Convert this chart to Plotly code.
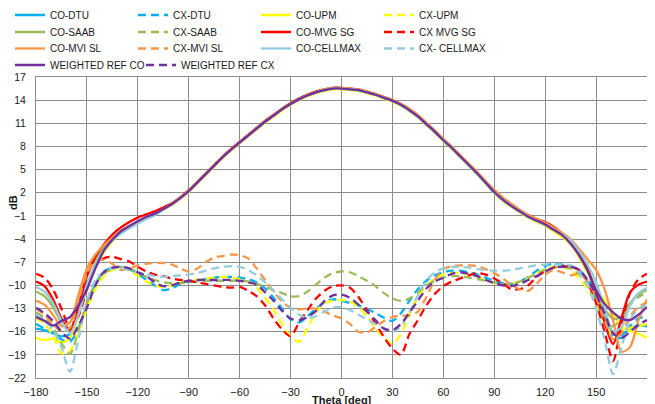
import plotly.graph_objects as go

# Theta grid (deg)
THETA = list(range(-180, 185, 5))

# ---- Co-polar series (dB) ----
CO_DTU = [-15.6, -15.8, -16.2, -16.6, -16.3, -13.8, -10.0, -7.4, -5.5,
          -4.1, -3.1, -2.4, -1.8, -1.2, -0.8, -0.2, 0.5, 1.3,
          2.2, 3.3, 4.4, 5.5, 6.6, 7.6, 8.5, 9.4, 10.3,
          11.2, 12.0, 12.8, 13.5, 14.1, 14.6, 15.0, 15.3, 15.5,
          15.5, 15.4, 15.2, 15.0, 14.7, 14.3, 13.9, 13.3, 12.6,
          11.8, 10.8, 9.8, 8.7, 7.7, 6.6, 5.5, 4.4, 3.2,
          2.0, 1.0, 0.2, -0.5, -1.2, -1.7, -2.2, -2.9, -3.6,
          -4.6, -6.1, -8.2, -11.2, -14.2, -16.2, -16.4, -15.6, -15.2, -15.3]
CO_UPM = [-16.8, -17.1, -16.9, -17.4, -16.8, -14.0, -10.3, -7.6, -5.7,
          -4.3, -3.2, -2.4, -1.8, -1.2, -0.8, -0.2, 0.4, 1.2,
          2.1, 3.2, 4.3, 5.4, 6.5, 7.5, 8.4, 9.3, 10.2,
          11.1, 11.9, 12.7, 13.4, 14.0, 14.5, 14.9, 15.2, 15.4,
          15.4, 15.3, 15.2, 14.9, 14.6, 14.2, 13.8, 13.3, 12.6,
          11.8, 10.8, 9.8, 8.7, 7.7, 6.6, 5.5, 4.4, 3.2,
          2.0, 1.0, 0.2, -0.5, -1.2, -1.8, -2.3, -3.0, -3.7,
          -4.7, -6.3, -8.4, -10.4, -12.0, -13.6, -15.4, -15.9, -16.3, -16.8]
CO_SAAB = [-10.8, -11.4, -12.8, -14.8, -15.8, -12.3, -8.7, -6.7, -5.1,
           -4.0, -3.0, -2.3, -1.7, -1.1, -0.7, -0.1, 0.6, 1.4,
           2.3, 3.4, 4.5, 5.6, 6.7, 7.7, 8.6, 9.5, 10.4,
           11.3, 12.1, 12.9, 13.6, 14.2, 14.7, 15.1, 15.4, 15.6,
           15.6, 15.5, 15.3, 15.0, 14.7, 14.3, 13.9, 13.4, 12.7,
           11.9, 10.9, 9.9, 8.8, 7.8, 6.7, 5.6, 4.5, 3.3,
           2.1, 1.1, 0.3, -0.4, -1.1, -1.6, -2.1, -2.8, -3.4,
           -4.4, -5.9, -7.9, -10.6, -13.0, -14.3, -14.1, -12.3, -11.2, -10.6]
CO_MVG = [-9.5, -10.1, -11.8, -14.3, -15.8, -12.8, -8.8, -6.3, -4.7,
          -3.4, -2.5, -1.8, -1.2, -0.8, -0.4, 0.1, 0.6, 1.4,
          2.3, 3.4, 4.5, 5.6, 6.7, 7.7, 8.6, 9.5, 10.4,
          11.3, 12.1, 12.9, 13.6, 14.2, 14.7, 15.1, 15.4, 15.6,
          15.6, 15.5, 15.4, 15.1, 14.8, 14.4, 14.0, 13.5, 12.8,
          12.0, 11.0, 10.0, 8.9, 7.9, 6.8, 5.7, 4.6, 3.4,
          2.2, 1.2, 0.4, -0.3, -0.9, -1.4, -1.8, -2.4, -3.3,
          -4.4, -6.0, -7.9, -11.0, -14.8, -17.6, -14.2, -10.9, -9.9, -9.5]
CO_MVI = [-12.0, -12.5, -13.8, -15.3, -14.8, -11.2, -7.8, -6.0, -4.8,
          -3.8, -2.9, -2.3, -1.7, -1.1, -0.7, -0.1, 0.5, 1.3,
          2.2, 3.3, 4.4, 5.5, 6.6, 7.6, 8.5, 9.4, 10.3,
          11.2, 12.0, 12.8, 13.5, 14.1, 14.6, 15.0, 15.4, 15.6,
          15.6, 15.5, 15.4, 15.1, 14.8, 14.4, 14.0, 13.5, 12.9,
          12.1, 11.1, 10.1, 9.0, 8.0, 6.9, 5.8, 4.7, 3.5,
          2.4, 1.4, 0.6, -0.2, -0.9, -1.4, -1.9, -2.5, -3.2,
          -4.0, -5.3, -6.6, -8.0, -10.5, -14.5, -18.6, -18.0, -14.5, -11.8]
CO_CELLMAX = [-10.2, -10.8, -12.3, -14.6, -16.2, -13.8, -10.0, -7.3, -5.5,
              -4.2, -3.3, -2.6, -2.0, -1.4, -0.9, -0.2, 0.5, 1.3,
              2.2, 3.3, 4.4, 5.5, 6.6, 7.6, 8.5, 9.4, 10.3,
              11.2, 12.0, 12.8, 13.5, 14.1, 14.6, 15.0, 15.3, 15.5,
              15.5, 15.4, 15.3, 15.0, 14.7, 14.3, 13.9, 13.4, 12.7,
              11.9, 10.9, 9.9, 8.8, 7.8, 6.7, 5.6, 4.5, 3.3,
              2.1, 1.1, 0.3, -0.4, -1.1, -1.7, -2.2, -2.8, -3.4,
              -4.2, -5.6, -7.3, -9.6, -13.0, -16.0, -15.4, -12.6, -11.0, -10.3]
WEIGHTED_CO = [-14.1, -14.6, -15.2, -14.6, -14.1, -12.6, -10.5, -7.8, -5.5,
               -4.1, -3.0, -2.3, -1.7, -1.1, -0.7, -0.1, 0.5, 1.3,
               2.2, 3.3, 4.4, 5.5, 6.6, 7.6, 8.5, 9.4, 10.3,
               11.2, 12.0, 12.8, 13.5, 14.1, 14.6, 15.0, 15.3, 15.5,
               15.5, 15.4, 15.3, 15.0, 14.7, 14.3, 13.9, 13.4, 12.7,
               11.9, 10.9, 9.9, 8.8, 7.8, 6.7, 5.6, 4.5, 3.3,
               2.1, 1.1, 0.3, -0.4, -1.1, -1.6, -2.1, -2.8, -3.5,
               -4.6, -6.1, -8.1, -10.6, -12.4, -13.5, -14.3, -14.5, -13.8, -12.8]

# ---- Cross-polar series (dB) ----
CX_DTU = [-15.0, -15.6, -16.2, -17.0, -17.3, -15.5, -12.5, -9.8, -8.2,
          -7.7, -7.6, -7.9, -8.5, -9.3, -10.0, -10.6, -10.4, -9.8,
          -9.5, -9.4, -9.2, -9.0, -8.9, -8.9, -9.0, -9.2, -9.6,
          -10.4, -11.6, -13.0, -14.4, -14.8, -14.0, -13.0, -12.2, -11.8,
          -12.0, -12.3, -12.6, -13.0, -13.6, -14.2, -14.6, -13.6, -12.0,
          -10.5, -9.4, -8.7, -8.3, -8.1, -8.1, -8.3, -8.6, -9.0,
          -9.4, -9.7, -9.8, -9.5, -8.9, -8.1, -7.5, -7.2, -7.3,
          -7.5, -8.0, -9.3, -11.3, -14.0, -16.5, -16.8, -15.3, -14.3, -14.0]
CX_UPM = [-14.2, -15.0, -16.5, -18.8, -18.5, -16.0, -13.0, -10.5, -8.8,
          -8.0, -7.8, -8.1, -8.8, -9.5, -10.0, -10.2, -10.0, -9.6,
          -9.4, -9.3, -9.1, -9.0, -8.9, -9.0, -9.2, -9.5, -10.3,
          -11.6, -13.2, -15.0, -16.6, -17.3, -15.5, -13.5, -12.3, -12.0,
          -11.9, -12.1, -12.8, -14.0, -15.5, -16.8, -17.6, -16.3, -13.8,
          -11.5, -10.0, -9.1, -8.6, -8.4, -8.4, -8.6, -8.9, -9.3,
          -9.7, -9.9, -9.8, -9.5, -9.0, -8.4, -7.9, -7.6, -7.6,
          -8.0, -9.0, -10.5, -12.5, -14.8, -16.5, -15.8, -15.5, -15.3, -15.0]
CX_SAAB = [-13.5, -14.2, -15.5, -17.5, -18.9, -15.8, -12.2, -9.8, -8.5,
           -7.8, -7.6, -7.8, -8.3, -8.9, -9.3, -9.6, -9.7, -9.7,
           -9.6, -9.5, -9.4, -9.4, -9.4, -9.4, -9.4, -9.5, -9.8,
           -10.2, -10.6, -11.0, -11.4, -11.4, -10.8, -9.9, -9.0, -8.4,
           -8.2, -8.3, -8.8, -9.4, -10.1, -11.0, -11.7, -12.0, -11.7,
           -10.9, -10.0, -9.4, -9.0, -8.8, -8.8, -9.0, -9.2, -9.4,
           -9.6, -9.8, -9.8, -9.5, -9.0, -8.5, -8.0, -7.7, -7.6,
           -7.8, -8.5, -10.0, -12.0, -14.3, -15.3, -14.3, -12.5, -11.5, -11.0]
CX_MVG = [-8.5, -9.0, -10.5, -13.0, -15.5, -14.0, -10.5, -7.5, -6.5,
          -6.3, -6.6, -6.9, -7.6, -8.2, -8.6, -8.8, -9.1, -9.3,
          -9.4, -9.6, -9.8, -10.0, -10.2, -10.3, -10.2, -10.7, -11.4,
          -12.6, -14.3, -15.7, -16.6, -14.8, -13.2, -11.7, -10.7, -10.1,
          -10.0, -10.3, -11.5, -13.2, -14.9, -16.7, -18.2, -19.0, -16.3,
          -14.5, -12.6, -11.1, -10.1, -9.5, -9.1, -8.7, -8.4, -8.6,
          -9.1, -9.7, -10.5, -10.5, -10.0, -8.9, -8.2, -7.7, -7.5,
          -7.6, -8.0, -9.6, -12.3, -16.0, -19.8, -15.0, -11.0, -9.2, -8.5]
CX_MVI = [-13.0, -13.8, -15.0, -16.0, -15.5, -12.0, -8.5, -6.9, -6.7,
          -7.2, -8.0, -7.8, -7.4, -7.2, -7.1, -7.1, -7.3, -7.8,
          -8.2, -7.8, -7.0, -6.4, -6.2, -6.0, -6.1, -6.5, -7.8,
          -9.3, -10.8, -12.1, -12.9, -13.1, -13.0, -13.0, -13.4, -13.9,
          -14.3, -15.0, -16.0, -16.1, -15.4, -14.6, -14.1, -13.9, -13.9,
          -13.4, -11.5, -9.3, -7.9, -7.5, -7.4, -7.4, -7.5, -7.9,
          -8.4, -9.1, -9.9, -10.5, -10.7, -9.8, -8.6, -8.0, -8.3,
          -8.7, -8.5, -9.5, -11.5, -14.5, -17.0, -16.2, -14.0, -12.8, -12.2]
CX_CELLMAX = [-13.8, -14.5, -15.8, -18.0, -21.2, -17.0, -12.0, -9.3, -8.2,
              -7.8, -7.8, -8.0, -8.3, -8.6, -8.8, -8.9, -8.8, -8.7,
              -8.6, -8.4, -8.1, -7.8, -7.6, -7.5, -7.6, -8.0, -8.7,
              -9.6, -10.7, -11.8, -12.9, -13.8, -14.2, -14.0, -13.4, -12.9,
              -12.8, -13.2, -13.8, -14.4, -15.0, -15.6, -16.0, -15.3, -13.5,
              -11.3, -9.4, -8.3, -7.8, -7.6, -7.6, -7.7, -7.9, -8.0,
              -8.1, -8.1, -8.0, -7.8, -7.6, -7.4, -7.3, -7.3, -7.3,
              -7.4, -8.3, -10.0, -13.0, -17.0, -21.5, -18.0, -14.5, -13.0, -12.5]
WEIGHTED_CX = [-12.9, -13.6, -14.6, -16.0, -16.9, -15.2, -12.9, -10.0, -8.3,
               -7.7, -7.6, -7.8, -8.3, -8.8, -9.6, -10.1, -10.0, -9.6,
               -9.4, -9.3, -9.3, -9.3, -9.3, -9.3, -9.4, -9.6, -9.9,
               -10.9, -12.0, -13.3, -14.3, -14.5, -14.1, -13.3, -12.0, -11.3,
               -11.2, -11.6, -12.5, -13.4, -14.5, -15.6, -15.8, -15.0, -13.5,
               -12.0, -10.4, -9.5, -9.0, -8.5, -8.3, -8.5, -8.8, -9.3,
               -9.7, -10.0, -10.1, -9.8, -9.3, -8.8, -8.2, -7.7, -7.6,
               -7.6, -8.0, -9.3, -11.2, -13.6, -16.2, -16.8, -16.0, -15.1, -14.5]

X_TICKS = [-180, -150, -120, -90, -60, -30, 0, 30, 60, 90, 120, 150, 180]
Y_TICKS = [-22, -19, -16, -13, -10, -7, -4, -1, 2, 5, 8, 11, 14, 17]

SERIES = [
    ("CO-DTU", CO_DTU, "#00B0F0", False),
    ("CX-DTU", CX_DTU, "#00B0F0", True),
    ("CO-UPM", CO_UPM, "#FFFF00", False),
    ("CX-UPM", CX_UPM, "#FFFF00", True),
    ("CO-SAAB", CO_SAAB, "#9BBB59", False),
    ("CX-SAAB", CX_SAAB, "#9BBB59", True),
    ("CO-MVG SG", CO_MVG, "#FF0000", False),
    ("CX MVG SG", CX_MVG, "#FF0000", True),
    ("CO-MVI SL", CO_MVI, "#F79646", False),
    ("CX-MVI SL", CX_MVI, "#F79646", True),
    ("CO-CELLMAX", CO_CELLMAX, "#93CDDD", False),
    ("CX- CELLMAX", CX_CELLMAX, "#93CDDD", True),
    ("WEIGHTED REF CO", WEIGHTED_CO, "#7030A0", False),
    ("WEIGHTED REF CX", WEIGHTED_CX, "#7030A0", True),
]

FONT = "Liberation Sans, Arial, sans-serif"
TXT = "#1a1a1a"
GRID = "#8c8c8c"
LEGEND_IDS = ["legend", "legend2", "legend3", "legend4"]

# The page adds an 8px body margin, so the figure is laid out in
# coordinates shifted by 8px (page = figure + 8).
OFF = 8
W, H = 655 - OFF, 404 - OFF
L, R, T, B = 36 - OFF, 647 - OFF, 77 - OFF, 378 - OFF
PW, PH = R - L, B - T
LEGEND_ROW_Y = [15 - OFF, 32 - OFF, 48.5 - OFF, 65 - OFF]
LEGEND_ENTRY_W = [78, 78, 78, 86]


def px_x(p):
    return (p - OFF - L) / PW


def px_y(p):
    return (B - (p - OFF)) / PH


fig = go.Figure()
for i, (name, vals, color, dashed) in enumerate(SERIES):
    fig.add_trace(go.Scatter(
        x=THETA, y=vals, name=name, mode="lines",
        line=dict(color=color, width=2.3, dash="8px,5px" if dashed else "solid",
                  shape="spline", smoothing=0.8),
        legend=LEGEND_IDS[i // 4],
        legendwidth=110 if i == len(SERIES) - 1 else None,
    ))

layout_legends = {}
for lid, ypx, ew in zip(LEGEND_IDS, LEGEND_ROW_Y, LEGEND_ENTRY_W):
    layout_legends[lid] = dict(
        orientation="h", xref="paper", yref="paper",
        x=(2 - L) / PW, xanchor="left",
        y=(B - ypx) / PH, yanchor="middle",
        entrywidth=ew, entrywidthmode="pixels",
        itemwidth=30, bgcolor="rgba(0,0,0,0)", borderwidth=0,
        font=dict(family=FONT, size=10, color=TXT),
        traceorder="normal",
    )

fig.update_layout(
    width=W, height=H,
    margin=dict(l=L, r=W - R, t=T, b=H - B, autoexpand=False),
    paper_bgcolor="white", plot_bgcolor="white",
    font=dict(family=FONT, color=TXT),
    showlegend=True,
    **layout_legends,
    xaxis=dict(range=[-180, 180], tickvals=X_TICKS, showgrid=True,
               gridcolor=GRID, gridwidth=1, zeroline=False,
               showline=True, linecolor=GRID, linewidth=1, mirror=True,
               ticks="", tickfont=dict(family=FONT, size=11, color=TXT),
               ticklabelstandoff=4),
    yaxis=dict(range=[-22, 17], tickvals=Y_TICKS, showgrid=True,
               gridcolor=GRID, gridwidth=1, zeroline=False,
               showline=True, linecolor=GRID, linewidth=1, mirror=True,
               ticks="", tickfont=dict(family=FONT, size=10.5, color=TXT),
               ticklabelstandoff=7),
    annotations=[
        dict(text="<b>dB</b>", xref="paper", yref="paper",
             x=px_x(13), y=px_y(203), showarrow=False,
             textangle=-90, font=dict(family=FONT, size=11, color=TXT),
             xanchor="center", yanchor="middle"),
        dict(text="<b>Theta [deg]</b>", xref="paper", yref="paper",
             x=px_x(342), y=px_y(400), showarrow=False,
             font=dict(family=FONT, size=11, color=TXT),
             xanchor="center", yanchor="middle"),
    ],
)

fig.write_html("out.html")
